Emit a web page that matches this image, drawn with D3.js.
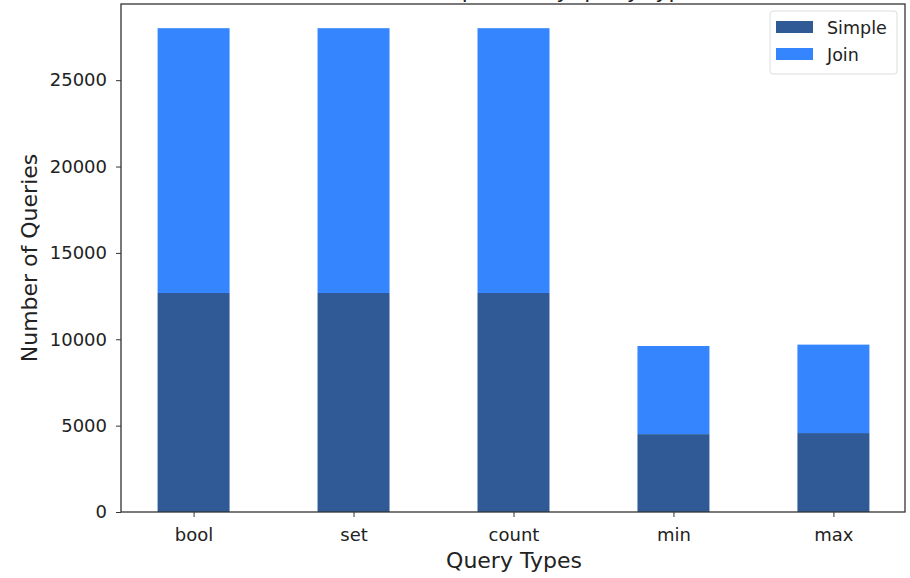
<!DOCTYPE html>
<html><head><meta charset="utf-8">
<script src="https://cdn.jsdelivr.net/npm/d3@7"></script>
<style>
html,body{margin:0;padding:0;background:#fff;}
text{font-family:"DejaVu Sans",sans-serif;fill:#222;}
</style></head>
<body>
<svg id="c" width="910" height="578"></svg>
<script>
const categories = ["bool", "set", "count", "min", "max"];
const simpleValues = [12680, 12680, 12680, 4510, 4570];
const joinValues = [15330, 15330, 15330, 5100, 5120];
const yTicks = [0, 5000, 10000, 15000, 20000, 25000];
const seriesNames = ["Simple", "Join"];
const colors = ["#305a96", "#3485fe"];

const svg = d3.select("#c");
const L = 121, R = 905, T = 4, B = 512;
const barW = 0.45;
const n = categories.length;
const xPad = (n - 1 + barW) * 0.05;
const x = d3.scaleLinear().domain([-barW/2 - xPad, n - 1 + barW/2 + xPad]).range([L + 1, R]);
const maxTotal = d3.max(simpleValues.map((v,i)=>v+joinValues[i]));
const y = d3.scaleLinear().domain([0, maxTotal*1.05]).range([B, T]);

// title (mostly clipped above the visible area, as in the reference)
svg.append("text").attr("x", (L+R)/2).attr("y", -2.5).attr("text-anchor","middle")
  .style("font-size","22px").text("Number of queries by query type");

const g = svg.append("g");
categories.forEach((c,i)=>{
  const x0 = x(i - barW/2), w = x(i + barW/2) - x0;
  g.append("rect").attr("x",x0).attr("width",w)
    .attr("y",y(simpleValues[i])).attr("height",y(0)-y(simpleValues[i]))
    .attr("fill",colors[0]);
  g.append("rect").attr("x",x0).attr("width",w)
    .attr("y",y(simpleValues[i]+joinValues[i])).attr("height",y(simpleValues[i])-y(simpleValues[i]+joinValues[i]))
    .attr("fill",colors[1]);
});

// axes
const xAxis = d3.axisBottom(x).tickValues(d3.range(n)).tickFormat(i=>categories[i]).tickSize(5).tickPadding(11);
const gx = svg.append("g").attr("transform",`translate(0,${B})`).call(xAxis);
gx.select(".domain").remove();
gx.selectAll("line").attr("stroke","#333");
gx.selectAll("text").style("font-size","18px").style("font-family","DejaVu Sans").attr("fill","#222");

const yAxis = d3.axisLeft(y).tickValues(yTicks).tickFormat(d3.format("d")).tickSize(5).tickPadding(9);
const gy = svg.append("g").attr("transform",`translate(${L},0)`).call(yAxis);
gy.select(".domain").remove();
gy.selectAll("line").attr("stroke","#333");
gy.selectAll("text").style("font-size","18px").style("font-family","DejaVu Sans").attr("fill","#222");

// frame
svg.append("rect").attr("x",L).attr("y",T).attr("width",R-L).attr("height",B-T)
  .attr("fill","none").attr("stroke","#333").attr("stroke-width",1.3);

// axis labels
svg.append("text").attr("x",514).attr("y",568).attr("text-anchor","middle")
  .style("font-size","22px").text("Query Types");
svg.append("text").attr("transform",`translate(37,${258}) rotate(-90)`).attr("text-anchor","middle")
  .style("font-size","22px").text("Number of Queries");

// legend
const lg = svg.append("g").attr("transform","translate(770,11)");
lg.append("rect").attr("width",127).attr("height",63).attr("rx",3)
  .attr("fill","#fff").attr("stroke","#ddd");
seriesNames.forEach((s,i)=>{
  lg.append("rect").attr("x",6).attr("y",10+i*27).attr("width",37).attr("height",12).attr("fill",colors[i]);
  lg.append("text").attr("x",57).attr("y",23+i*27).style("font-size","17.5px").text(s);
});
</script>
</body></html>
